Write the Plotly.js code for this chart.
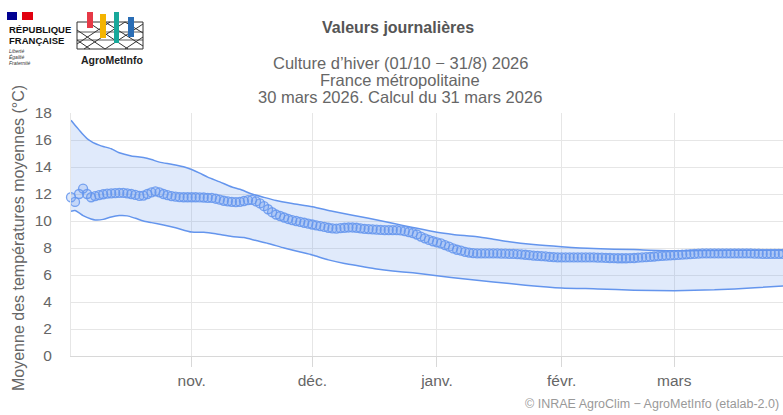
<!DOCTYPE html>
<html>
<head>
<meta charset="utf-8">
<script src="https://cdn.plot.ly/plotly-3.0.1.min.js"></script>
<style>html,body{margin:0;padding:0;background:#fff;}#chart{width:783px;height:415px;}</style>
</head>
<body>
<div id="chart"></div>
<script>
// ---- DATA ----
const seasonStart = [2025, 9, 2]; // 2 Oct 2025 (JS month index)
// daily values (2026 season), from 2 Oct 2025 onward
const dailyValues = [
 11.76, 11.41, 12.0, 12.4, 12.0, 11.76, 11.85, 11.92, 11.98, 12.03,
 12.05, 12.07, 12.08, 12.08, 12.05, 12.0, 11.93, 11.86, 11.88, 12.0,
 12.12, 12.2, 12.12, 12.0, 11.91, 11.85, 11.8, 11.77, 11.76, 11.76,
 11.76, 11.76, 11.75, 11.74, 11.72, 11.71, 11.65, 11.58, 11.5, 11.46,
 11.42, 11.4, 11.42, 11.48, 11.54, 11.56, 11.45, 11.3, 11.1, 10.87,
 10.65, 10.48, 10.37, 10.26, 10.15, 10.07, 10.0, 9.93, 9.87, 9.8,
 9.74, 9.68, 9.62, 9.56, 9.5, 9.45, 9.44, 9.47, 9.5, 9.52,
 9.52, 9.5, 9.46, 9.42, 9.4, 9.38, 9.36, 9.34, 9.33, 9.33,
 9.33, 9.32, 9.3, 9.25, 9.18, 9.1, 9.0, 8.85, 8.72, 8.6,
 8.5, 8.42, 8.34, 8.22, 8.1, 7.97, 7.87, 7.8, 7.72, 7.66,
 7.62, 7.6, 7.6, 7.6, 7.6, 7.6, 7.6, 7.59, 7.58, 7.57,
 7.56, 7.55, 7.53, 7.5, 7.47, 7.44, 7.42, 7.4, 7.38, 7.35,
 7.33, 7.31, 7.3, 7.3, 7.3, 7.3, 7.3, 7.3, 7.3, 7.3,
 7.3, 7.29, 7.28, 7.27, 7.26, 7.25, 7.24, 7.24, 7.24, 7.25,
 7.26, 7.28, 7.3, 7.32, 7.35, 7.37, 7.4, 7.42, 7.44, 7.46,
 7.47, 7.49, 7.51, 7.53, 7.55, 7.57, 7.58, 7.6, 7.6, 7.6,
 7.6, 7.6, 7.6, 7.6, 7.6, 7.6, 7.6, 7.6, 7.6, 7.6,
 7.59, 7.58, 7.57, 7.57, 7.56, 7.56, 7.56, 7.57, 7.58, 7.6
];
// envelope (day offset from season start)
const upperDays = [0,1,2,3,4,5,6,7,8,10,12,15,18,20,22,25,28,30,32,34,37,40,42,45,48,51,55,60,65,70,74,80,85,91,95,101,105,109,115,122,130,140,150,160,170,179];
const upperValues = [17.46,17.1,16.75,16.4,16.1,15.9,15.74,15.62,15.52,15.35,15.05,14.82,14.7,14.55,14.36,14.2,14.02,13.82,13.55,13.25,12.9,12.52,12.35,12.0,11.75,11.52,11.3,11.06,10.72,10.42,10.2,9.83,9.52,9.16,9.0,8.83,8.65,8.46,8.26,8.1,7.96,7.88,7.8,7.82,7.84,7.85];
const lowerDays = [0,1,2,3,5,6,8,10,12,14,16,18,20,23,26,30,33,36,40,43,46,49,53,57,60,64,68,72,76,80,85,91,98,105,113,122,131,140,150,160,170,179];
const lowerValues = [10.72,10.77,10.6,10.4,10.15,10.08,10.12,10.3,10.4,10.38,10.2,10.0,9.88,9.7,9.5,9.18,9.16,9.05,8.85,8.77,8.55,8.34,8.0,7.7,7.48,7.12,6.85,6.65,6.45,6.3,6.16,5.95,5.7,5.49,5.25,5.04,4.97,4.87,4.84,4.9,5.05,5.22];
const monthTicks = ['2025-11-01','2025-12-01','2026-01-01','2026-02-01','2026-03-01'];
const monthLabels = ['nov.','déc.','janv.','févr.','mars'];
const yTicks = [0,2,4,6,8,10,12,14,16,18];

// ---- helpers ----
function dateOf(d){
  const t = new Date(Date.UTC(seasonStart[0], seasonStart[1], seasonStart[2] + d));
  return t.toISOString().slice(0,10);
}
const dailyDates = dailyValues.map((v,i)=>dateOf(i));
const upperDates = upperDays.map(dateOf);
const lowerDates = lowerDays.map(dateOf);

const W=783, H=415, L=71, R=0, T=113, B=59;
const PW=W-L-R, PH=H-T-B;
const px = p => (p-L)/PW;
const py = p => (H-B-p)/PH;

const blue = 'rgb(100,149,237)';
const font = 'Liberation Sans, Arial, sans-serif';

const traces = [
  {x: lowerDates, y: lowerValues, type:'scatter', mode:'lines',
   line:{color:blue, width:1.5, shape:'spline', smoothing:0.6}, hoverinfo:'skip', showlegend:false},
  {x: upperDates, y: upperValues, type:'scatter', mode:'lines', fill:'tonexty',
   fillcolor:'rgba(100,149,237,0.2)',
   line:{color:blue, width:1.5, shape:'spline', smoothing:0.6}, hoverinfo:'skip', showlegend:false},
  {x: dailyDates, y: dailyValues, type:'scatter', mode:'markers', cliponaxis:false,
   marker:{symbol:'circle', size:9, color:'rgba(100,149,237,0.22)',
           line:{color:'rgba(100,149,237,0.85)', width:1.3}}, showlegend:false}
];

function ann(text, xpx, ypx, size, opts){
  return Object.assign({text, xref:'paper', yref:'paper', x:px(xpx), y:py(ypx),
    xanchor:'center', yanchor:'middle', showarrow:false,
    font:{family:font, size, color:'#666'}}, opts||{});
}
const annotations = [
  ann('<b>Valeurs journalières</b>', 398, 28, 16, {font:{family:font,size:16,color:'#555'}}),
  ann('Culture d’hiver (01/10 − 31/8) 2026', 400, 63, 16.5),
  ann('France métropolitaine', 400, 80, 16.5),
  ann('30 mars 2026. Calcul du 31 mars 2026', 400, 97, 16.5),
  ann('Moyenne des températures moyennes (°C)', 18, 238, 16, {textangle:-90}),
  ann('© INRAE AgroClim − AgroMetInfo (etalab-2.0)', 781, 404, 12.5, {xanchor:'right', font:{family:font,size:12.5,color:'#999'}}),
  // logos
  ann('<b>RÉPUBLIQUE</b>', 7, 29, 9.5, {xanchor:'left', font:{family:font,size:9.5,color:'#111'}}),
  ann('<b>FRANÇAISE</b>', 7, 40.5, 9.5, {xanchor:'left', font:{family:font,size:9.5,color:'#111'}}),
  ann('<i>Liberté</i>', 7, 51, 5, {xanchor:'left', font:{family:font,size:5,color:'#333'}}),
  ann('<i>Égalité</i>', 7, 57, 5, {xanchor:'left', font:{family:font,size:5,color:'#333'}}),
  ann('<i>Fraternité</i>', 7, 63, 5, {xanchor:'left', font:{family:font,size:5,color:'#333'}}),
  ann('<b>AgroMetInfo</b>', 112, 60, 10.5, {font:{family:font,size:10.5,color:'#222'}})
];

function rect(x0,y0,x1,y1,fill,line){
  return {type:'rect', xref:'paper', yref:'paper', x0:px(x0), x1:px(x1), y0:py(y0), y1:py(y1),
    fillcolor:fill, line:line||{width:0}, layer:'above'};
}
function seg(x0,y0,x1,y1,color,w){
  return {type:'line', xref:'paper', yref:'paper', x0:px(x0), x1:px(x1), y0:py(y0), y1:py(y1),
    line:{color:color||'#333', width:w||1}, layer:'above'};
}
const shapes = [
  rect(7,12,17,20,'#000091'),
  rect(22,12,33,20,'#e1000f'),
  rect(77,22,143,49,'rgba(0,0,0,0)',{color:'#333',width:1}),
  seg(77,30,105,49), seg(77,40,90,49), seg(88,22,128,49), seg(105,22,143,46), seg(125,22,143,33),
  seg(77,44,110,22), seg(84,49,125,22), seg(105,49,143,24), seg(125,49,143,37),
  seg(77,32,143,32,'#333',0.8), seg(77,40,143,40,'#333',0.8),
  rect(87,12,93,28,'#e63946'),
  rect(100,14,106,38,'#f4b400'),
  rect(114,12,119,43,'#17a89a'),
  rect(128,17,134,37,'#2a6db5')
];

const layout = {
  width:W, height:H,
  margin:{l:L, r:R, t:T, b:B, pad:0},
  paper_bgcolor:'#fff', plot_bgcolor:'#fff',
  font:{family:font, color:'#666'},
  showlegend:false,
  xaxis:{
    type:'date', range:['2025-10-02','2026-03-28 01:00'],
    tickmode:'array', tickvals:monthTicks, ticktext:monthLabels,
    ticks:'outside', ticklen:10, tickcolor:'#d8d8d8', tickwidth:1,
    showgrid:true, gridcolor:'#e6e6e6', gridwidth:1,
    showline:true, linecolor:'#d8d8d8', linewidth:1,
    zeroline:false, ticklabelstandoff:0,
    tickfont:{family:font, size:15.5, color:'#666'}
  },
  yaxis:{
    range:[0,18], tickvals:yTicks, ticks:'', ticklabelstandoff:15,
    showgrid:true, gridcolor:'#e6e6e6', gridwidth:1,
    showline:true, linecolor:'#e6e6e6', zeroline:false,
    tickfont:{family:font, size:15.5, color:'#666'}
  },
  annotations, shapes
};

Plotly.newPlot('chart', traces, layout, {displayModeBar:false, staticPlot:true});
</script>
</body>
</html>
